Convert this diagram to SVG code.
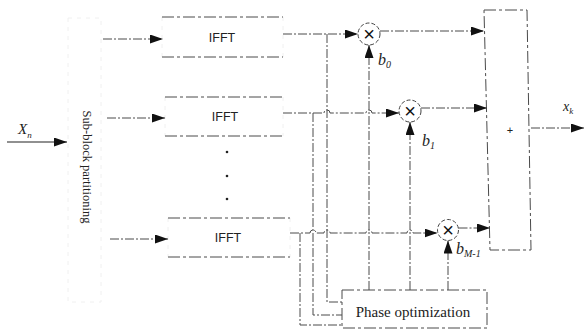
<svg xmlns="http://www.w3.org/2000/svg" width="585" height="334" viewBox="0 0 585 334">
<defs>
<marker id="ah" markerUnits="userSpaceOnUse" markerWidth="13" markerHeight="9" refX="13" refY="4.5" orient="auto">
<path d="M0,0 L13,4.5 L0,9 Z" fill="#111"/>
</marker>
<style>
.ln{fill:none;stroke:#4a4a4a;stroke-width:1;stroke-dasharray:9 2 2 2}
.ed{fill:none;stroke:#4a4a4a;stroke-width:1;stroke-dasharray:12 3 3 3}
.fe{fill:none;stroke:#f0f0f0;stroke-width:1;stroke-dasharray:4 5}
.cir{fill:#fff;stroke:#444;stroke-width:1;stroke-dasharray:4 2}
.sans{font-family:"Liberation Sans",Arial,sans-serif;fill:#222}
.mx{font-family:"Liberation Sans",Arial,sans-serif;fill:#111;font-size:20px;text-anchor:middle}
.serif{font-family:"Liberation Serif","Times New Roman",serif;fill:#222}
.it{font-family:"Liberation Serif","Times New Roman",serif;font-style:italic;fill:#222}
</style>
</defs>
<rect width="585" height="334" fill="#fff"/>

<g id="partition">
<rect x="68" y="18" width="33" height="284" class="fe"/>
<text class="serif" font-size="12.5" text-anchor="middle" transform="translate(83,167) rotate(90)">Sub-block partitioning</text>
</g>

<g id="ifft0">
<path d="M162,17 V57 M283,17 V57" class="fe"/>
<path d="M162,17 H283 M162,57 H283" class="ed"/>
<text class="sans" x="222" y="42" font-size="12.5" text-anchor="middle">IFFT</text>
</g>
<g id="ifft1">
<path d="M165,97 V136 M283,97 V136" class="fe"/>
<path d="M165,97 H283 M165,136 H283" class="ed"/>
<text class="sans" x="225" y="121" font-size="12.5" text-anchor="middle">IFFT</text>
</g>
<g id="dots" fill="#222">
<circle cx="227" cy="152" r="1.3"/>
<circle cx="227" cy="176" r="1.3"/>
<circle cx="227" cy="199" r="1.3"/>
</g>
<g id="ifft2">
<path d="M168,218 V257 M290,218 V257" class="fe"/>
<path d="M168,218 H290 M168,257 H290" class="ed"/>
<text class="sans" x="228" y="242" font-size="12.5" text-anchor="middle">IFFT</text>
</g>

<g id="mult0">
<circle cx="369" cy="34" r="11" class="cir"/>
<text class="mx" x="369" y="40.5">×</text>
</g>
<g id="mult1">
<circle cx="410" cy="111" r="11" class="cir"/>
<text class="mx" x="410" y="117.5">×</text>
</g>
<g id="mult2">
<circle cx="448" cy="230" r="10.5" class="cir"/>
<text class="mx" x="448" y="236.5">×</text>
</g>

<g id="combiner">
<path d="M484,10 L527,10 L531,250 L490,250 Z" class="ed"/>
<text class="sans" x="510" y="134" font-size="11" text-anchor="middle">+</text>
</g>

<g id="phase">
<rect x="342" y="290" width="145" height="38" class="ed"/>
<text class="serif" x="413" y="317" font-size="15" text-anchor="middle">Phase optimization</text>
</g>

<g id="connectors">
<path d="M7,142 H67" stroke="#222" stroke-width="1.2" fill="none" marker-end="url(#ah)"/>
<path d="M103,39 H163" class="ln" marker-end="url(#ah)"/>
<path d="M107,118 H165" class="ln" marker-end="url(#ah)"/>
<path d="M110,239 H168" class="ln" marker-end="url(#ah)"/>

<path d="M283,34 H358" class="ln" marker-end="url(#ah)"/>
<path d="M283,113 H324 a3,3 0 0 1 6,0 H366 a3,3 0 0 1 6,0 H399" class="ln" marker-end="url(#ah)"/>
<path d="M290,233 H310 a3,3 0 0 1 6,0 H324 a3,3 0 0 1 6,0 H366 a3,3 0 0 1 6,0 H407 a3,3 0 0 1 6,0 H437.5" class="ln" marker-end="url(#ah)"/>

<path d="M380,31 H484" class="ln" marker-end="url(#ah)"/>
<path d="M421,108 H487" class="ln" marker-end="url(#ah)"/>
<path d="M458.5,228 H490" class="ln" marker-end="url(#ah)"/>

<path d="M327,34 V302 H342" class="ln"/>
<path d="M313,113 V315 H342" class="ln"/>
<path d="M300,233 V325 H342" class="ln"/>

<path d="M369,290 V45" class="ln" marker-end="url(#ah)"/>
<path d="M410,290 V122" class="ln" marker-end="url(#ah)"/>
<path d="M448,290 V240.5" class="ln" marker-end="url(#ah)"/>

<path d="M531,128 H584" class="ln" marker-end="url(#ah)"/>
</g>

<g id="labels">
<text class="it" x="18" y="134" font-size="15">X<tspan font-size="9" dy="4">n</tspan></text>
<text class="it" x="378" y="65" font-size="16">b<tspan font-size="10" dy="3">0</tspan></text>
<text class="it" x="422" y="146" font-size="16">b<tspan font-size="10" dy="3">1</tspan></text>
<text class="it" x="456" y="254" font-size="16">b<tspan font-size="10" dy="3">M-1</tspan></text>
<text class="it" x="563" y="111" font-size="14">x<tspan font-size="9" dy="3">k</tspan></text>
</g>
</svg>
